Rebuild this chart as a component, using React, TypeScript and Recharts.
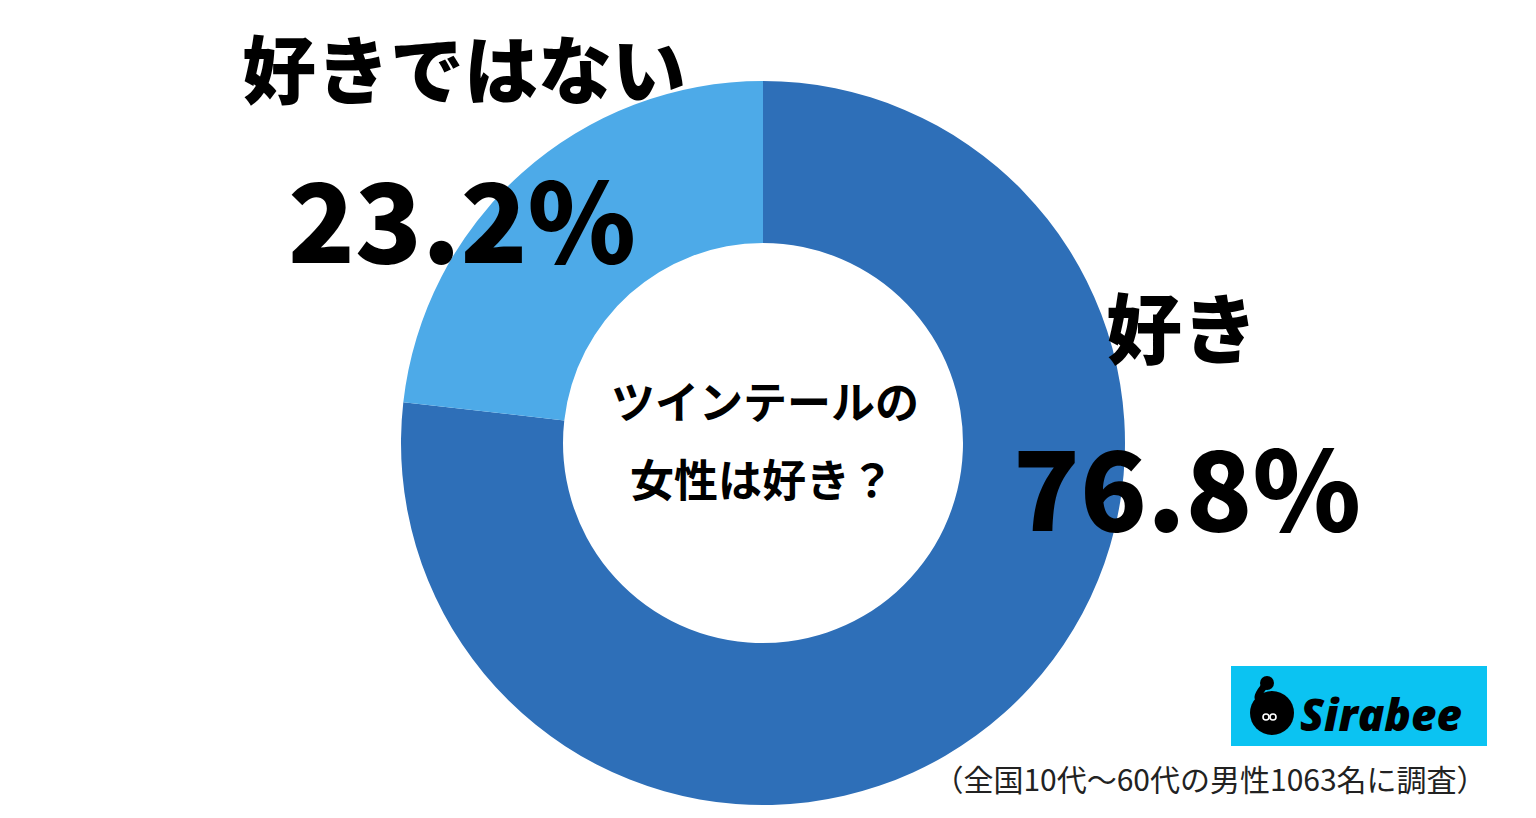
import { PieChart, Pie, Cell } from "recharts";

const labels = ["好き", "好きではない"];
const values = [76.8, 23.2];
const colors = ["#2E6FB8", "#4DAAE8"];
const question = ["ツインテールの", "女性は好き？"];
const note = "（全国10代〜60代の男性1063名に調査）";

const data = labels.map((name, i) => ({ name, value: values[i] }));

const JP = "'Noto Sans CJK JP', 'Noto Sans', sans-serif";

export default function App() {
  return (
    <div style={{ position: "absolute", left: 0, top: 0, width: 1536, height: 818, background: "#fff", overflow: "hidden" }}>
      <PieChart width={1536} height={818} margin={{ top: 0, right: 0, bottom: 0, left: 0 }}>
        <Pie
          data={data}
          dataKey="value"
          nameKey="name"
          cx={763}
          cy={443}
          innerRadius={200}
          outerRadius={362}
          startAngle={90}
          endAngle={-270}
          stroke="none"
          isAnimationActive={false}
        >
          {data.map((d, i) => (
            <Cell key={d.name} fill={colors[i]} />
          ))}
        </Pie>
      </PieChart>
      <svg width={1536} height={818} style={{ position: "absolute", left: 0, top: 0, pointerEvents: "none" }}>
        <g fontFamily={JP} fill="#000">
          <text x={464} y={65} fontSize={74} fontWeight={900} textAnchor="middle" dominantBaseline="central">
            {labels[1]}
          </text>
          <text x={462} y={263} fontSize={110} fontWeight={900} textAnchor="middle">
            {values[1].toFixed(1)}%
          </text>
          <text x={1182} y={325} fontSize={76} fontWeight={900} textAnchor="middle" dominantBaseline="central">
            {labels[0]}
          </text>
          <text x={1187} y={531} fontSize={110} fontWeight={900} textAnchor="middle">
            {values[0].toFixed(1)}%
          </text>
          <text x={765} y={400} fontSize={44} fontWeight={700} textAnchor="middle" dominantBaseline="central">
            {question[0]}
          </text>
          <text x={762} y={478} fontSize={44} fontWeight={700} textAnchor="middle" dominantBaseline="central">
            {question[1]}
          </text>
          <text x={1210} y={778} fontSize={30} fontWeight={400} fill="#222" textAnchor="middle" dominantBaseline="central">
            {note}
          </text>
        </g>
        <g>
          <rect x={1231} y={666} width={256} height={80} fill="#0BC3F2" />
          <circle cx={1272} cy={713} r={22} fill="#000" />
          <circle cx={1267} cy={683} r={7} fill="#000" />
          <path d="M1267 683 Q1252 700 1262 700" stroke="#000" strokeWidth={7} fill="none" />
          <circle cx={1266} cy={717} r={3} fill="none" stroke="#fff" strokeWidth={1.6} />
          <circle cx={1273} cy={717} r={3} fill="none" stroke="#fff" strokeWidth={1.6} />
          <text x={1300} y={731} fontFamily="'Open Sans', 'DejaVu Sans', sans-serif" fontSize={44} fontWeight={800} fontStyle="italic" fill="#000">
            Sirabee
          </text>
        </g>
      </svg>
    </div>
  );
}
